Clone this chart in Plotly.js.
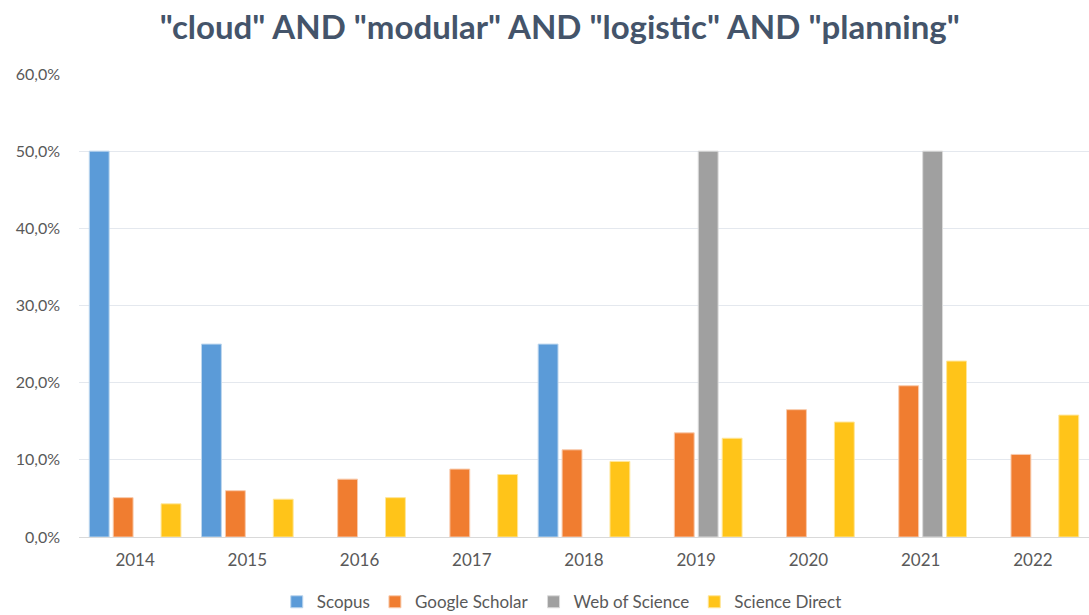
<!DOCTYPE html>
<html>
<head>
<meta charset="utf-8">
<script src="https://cdn.plot.ly/plotly-3.0.1.min.js"></script>
<style>html,body{margin:0;padding:0;background:#fff;}#chart{width:1089px;height:615px;}</style>
</head>
<body>
<div id="chart"></div>
<script>
const years = ["2014","2015","2016","2017","2018","2019","2020","2021","2022"];
const scopus = [0.50, 0.25, null, null, 0.25, null, null, null, null];
const googleScholar = [0.051, 0.060, 0.075, 0.088, 0.113, 0.135, 0.165, 0.196, 0.107];
const webOfScience = [null, null, null, null, null, 0.50, null, 0.50, null];
const scienceDirect = [0.043, 0.049, 0.051, 0.081, 0.098, 0.128, 0.149, 0.228, 0.158];
const yTickVals = [0, 0.1, 0.2, 0.3, 0.4, 0.5, 0.6];
const yTickText = ["0,0%", "10,0%", "20,0%", "30,0%", "40,0%", "50,0%", "60,0%"];

const mk = (name, y, color, line) => ({
  type: "bar", name: name, x: years, y: y,
  marker: {color: color, line: {color: line, width: 1}},
  hoverinfo: "x+y+name"
});

const data = [
  mk("Scopus", scopus, "#5B9BD8", "#BDD7EE"),
  mk("Google Scholar", googleScholar, "#F07D30", "#F8CBAD"),
  mk("Web of Science", webOfScience, "#A0A0A0", "#DBDBDB"),
  mk("Science Direct", scienceDirect, "#FFC419", "#FFE699")
];

const FONT = "Lato, 'Open Sans', sans-serif";
const layout = {
  width: 1089, height: 615,
  margin: {l: 79, r: 0, t: 74, b: 78, autoexpand: false},
  paper_bgcolor: "#fff", plot_bgcolor: "#fff",
  title: {text: '"cloud" AND "modular" AND "logistic" AND "planning"',
    font: {family: FONT, size: 33, color: "#44546A", weight: "bold"},
    x: 0.514, xanchor: "center", y: 0.955, yanchor: "middle"},
  barmode: "group", bargap: 0.147, bargroupgap: 0.17,
  showlegend: true,
  legend: {orientation: "h", x: 0.478, xanchor: "center", y: -0.102, yanchor: "top",
    font: {family: FONT, size: 17, color: "#595959"},
    itemwidth: 30, tracegroupgap: 0},
  xaxis: {type: "category", showgrid: false, showline: true, linecolor: "#D9D9D9", linewidth: 1,
    ticks: "", tickfont: {family: FONT, size: 17, color: "#595959"},
    ticklabelstandoff: 8, fixedrange: true},
  yaxis: {range: [0, 0.6], tickvals: yTickVals, ticktext: yTickText, showgrid: true,
    gridcolor: "#E4E8EE", gridwidth: 1, zeroline: false, showline: false, ticks: "",
    tickfont: {family: FONT, size: 16, color: "#595959"},
    ticklabelstandoff: 18, fixedrange: true}
};

Plotly.newPlot("chart", data, layout, {displayModeBar: false, staticPlot: true});
</script>
</body>
</html>
